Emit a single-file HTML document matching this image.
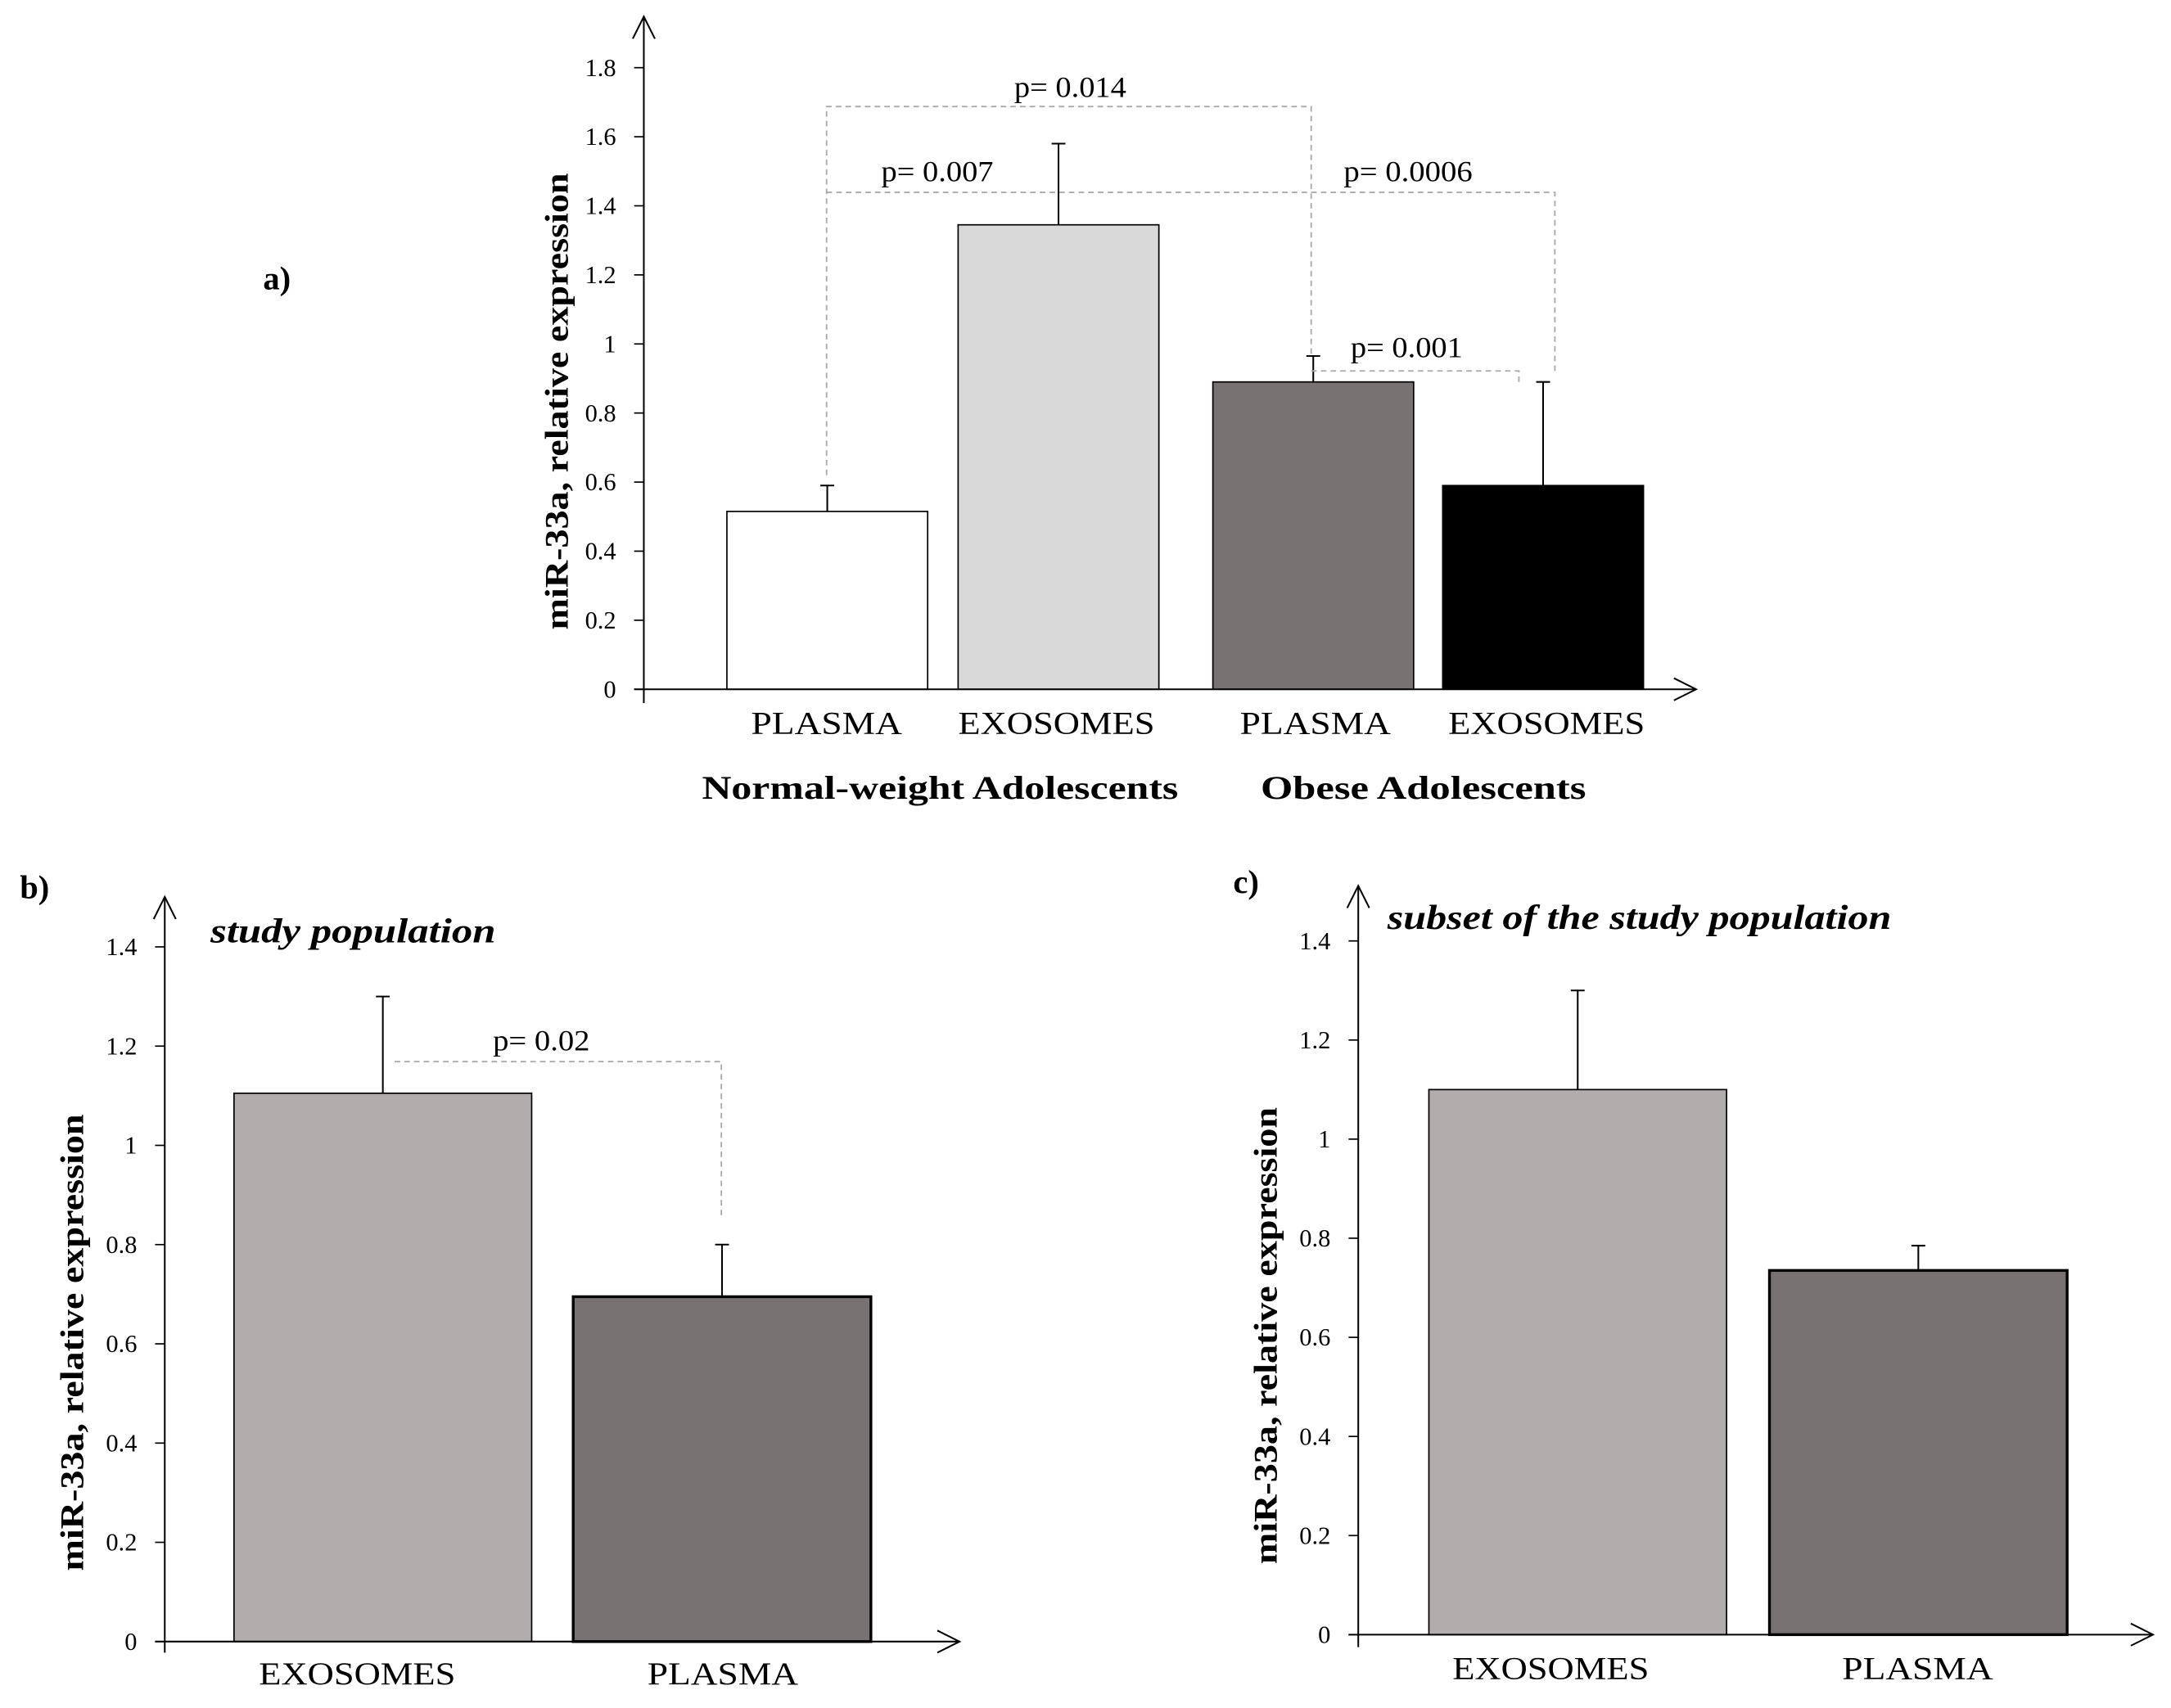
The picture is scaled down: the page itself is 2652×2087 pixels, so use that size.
<!DOCTYPE html>
<html><head><meta charset="utf-8"><style>
html,body{margin:0;padding:0;background:#fff;}
svg{display:block;font-family:"Liberation Serif",serif;}
</style></head><body>
<svg id="fig" width="2652" height="2087" viewBox="0 0 1568 1234" preserveAspectRatio="none" xmlns="http://www.w3.org/2000/svg">
<defs><marker id="ar" viewBox="0 0 20 20" refX="18" refY="10" markerWidth="20" markerHeight="20" markerUnits="userSpaceOnUse" orient="auto"><path d="M2,2 L18,10 L2,18" fill="none" stroke="#000" stroke-width="1.2"/></marker></defs>
<g id="root"></g>
</svg>
<script>
// Panel a data
const aCategories = ["PLASMA","EXOSOMES","PLASMA","EXOSOMES"];
const aValues = [0.515, 1.345, 0.89, 0.59];
const aErrors = [0.59, 1.58, 0.965, 0.89];
const aTicks = ["0","0.2","0.4","0.6","0.8","1","1.2","1.4","1.6","1.8"];
// Panel b data
const bCategories = ["EXOSOMES","PLASMA"];
const bValues = [1.105, 0.695];
const bErrors = [1.30, 0.80];
const bTicks = ["0","0.2","0.4","0.6","0.8","1","1.2","1.4"];
// Panel c data
const cCategories = ["EXOSOMES","PLASMA"];
const cValues = [1.10, 0.735];
const cErrors = [1.30, 0.785];
const cTicks = ["0","0.2","0.4","0.6","0.8","1","1.2","1.4"];

const NS="http://www.w3.org/2000/svg";
const root=document.getElementById('root');
function mk(tag,attrs,parent,text){const e=document.createElementNS(NS,tag);for(const k in attrs)e.setAttribute(k,attrs[k]);if(text!==undefined)e.textContent=text;(parent||root).appendChild(e);return e;}
function catLen(s){return s==="PLASMA"?109:142;}

function panel(cfg){
  const g=mk('g',{});
  
  
  const y=v=>cfg.y0-v/0.2*cfg.step;
  const ya=mk('line',{x1:cfg.ax,y1:cfg.axBottom,x2:cfg.ax,y2:cfg.axTop,stroke:'#000','stroke-width':1.2,'marker-end':'url(#ar)'},g);
  
  
  cfg.ticks.forEach((t,i)=>{
    const v=parseFloat(t);
    const tl=mk('line',{x1:cfg.ax-7,y1:y(v),x2:cfg.ax,y2:y(v),stroke:'#000','stroke-width':1},g);
    
    
    const tx=mk('text',{x:cfg.ax-20,y:y(v)+6,'text-anchor':'end','font-size':18},g,t);
    
    
  });
  cfg.vals.forEach((v,i)=>{
    const x0=cfg.bx[i],w=cfg.bw,cx=x0+w/2;
    const eb=mk('line',{x1:cx,y1:y(v),x2:cx,y2:y(cfg.errs[i]),stroke:'#000','stroke-width':1.2},g);
    
    
    const ec=mk('line',{x1:cx-5,y1:y(cfg.errs[i]),x2:cx+5,y2:y(cfg.errs[i]),stroke:'#000','stroke-width':1.2},g);
    
    
    const r=mk('rect',{x:x0,y:y(v),width:w,height:y(0)-y(v),fill:cfg.fills[i],stroke:'#000','stroke-width':cfg.sw[i]},g);
    
    
    const lt=mk('text',{x:cfg.lx[i],y:cfg.labelY,'text-anchor':'middle','font-size':23,textLength:catLen(cfg.cats[i]),lengthAdjust:'spacingAndGlyphs'},g,cfg.cats[i]);
    
    
  });
  const xa=mk('line',{x1:cfg.ax-7,y1:y(0),x2:cfg.axRight,y2:y(0),stroke:'#000','stroke-width':1.2,'marker-end':'url(#ar)'},g);
  
  
  const tt=mk('text',{x:cfg.titleX,y:cfg.titleY,'text-anchor':'middle','font-size':24,'font-weight':'bold',textLength:cfg.titleLen,lengthAdjust:'spacingAndGlyphs',transform:`rotate(-90 ${cfg.titleX} ${cfg.titleY})`},g,'miR-33a, relative expression');
  
  
  return {g,y};
}
function dash(g,pts){const p=mk('polyline',{points:pts.map(p=>p.join(',')).join(' '),fill:'none',stroke:'#aaa','stroke-width':1.1,'stroke-dasharray':'4,3'},g);}
function txt(g,x,y,s,name,len,extra){const a=Object.assign({x:x,y:y,'text-anchor':'middle','font-size':21},extra||{});if(len){a.textLength=len;a.lengthAdjust='spacingAndGlyphs';}const t=mk('text',a,g,s);return t;}

// Panel a
const A=panel({name:'panel-a',ax:465,axTop:12,axBottom:508,axRight:1225,y0:498,step:49.9,ticks:aTicks,vals:aValues,errs:aErrors,
  bx:[525,692,876,1042],bw:145,fills:['#fff','#d9d9d9','#797272','#000'],sw:[1,1,1,1],cats:aCategories,lx:[597,763,950,1117],labelY:530,titleX:410,titleY:290,titleLen:330});
dash(A.g,[[597,A.y(0.62)],[597,77],[947,77],[947,A.y(0.97)]]);
dash(A.g,[[597,139],[1123,139],[1123,268]]);
dash(A.g,[[947,268],[1097,268],[1097,278]]);
txt(A.g,773,70,'p= 0.014','p-value-label',81);
txt(A.g,677,131,'p= 0.007','p-value-label',81);
txt(A.g,1017,131,'p= 0.0006','p-value-label',93);
txt(A.g,1016,258,'p= 0.001','p-value-label',81);
txt(A.g,679,577,'Normal-weight Adolescents','group-label',344,{'font-size':24,'font-weight':'bold'});
txt(A.g,1028,577,'Obese Adolescents','group-label',235,{'font-size':24,'font-weight':'bold'});
txt(A.g,200,209,'a)','panel-label',0,{'font-size':24,'font-weight':'bold'});

// Panel b
const B=panel({name:'panel-b',ax:119,axTop:648,axBottom:1194,axRight:693,y0:1186,step:71.7,ticks:bTicks,vals:bValues,errs:bErrors,
  bx:[169,414],bw:215,fills:['#b1adac','#797272'],sw:[1,2],cats:bCategories,lx:[258,522],labelY:1217,titleX:60,titleY:970,titleLen:330});
dash(B.g,[[285,767],[521,767],[521,880]]);
txt(B.g,391,759,'p= 0.02','p-value-label',70);
txt(B.g,255,681,'study population','subplot-title',206,{'font-size':25,'font-style':'italic','font-weight':'bold'});
txt(B.g,25,649,'b)','panel-label',0,{'font-size':24,'font-weight':'bold'});

// Panel c
const C=panel({name:'panel-c',ax:981,axTop:640,axBottom:1190,axRight:1555,y0:1181,step:71.6,ticks:cTicks,vals:cValues,errs:cErrors,
  bx:[1032,1278],bw:215,fills:['#b1adac','#797272'],sw:[1,2],cats:cCategories,lx:[1120,1385],labelY:1213,titleX:922,titleY:965,titleLen:330});
txt(C.g,1184,671,'subset of the study population','subplot-title',364,{'font-size':25,'font-style':'italic','font-weight':'bold'});
txt(C.g,900,645,'c)','panel-label',0,{'font-size':24,'font-weight':'bold'});
</script>
</body></html>
